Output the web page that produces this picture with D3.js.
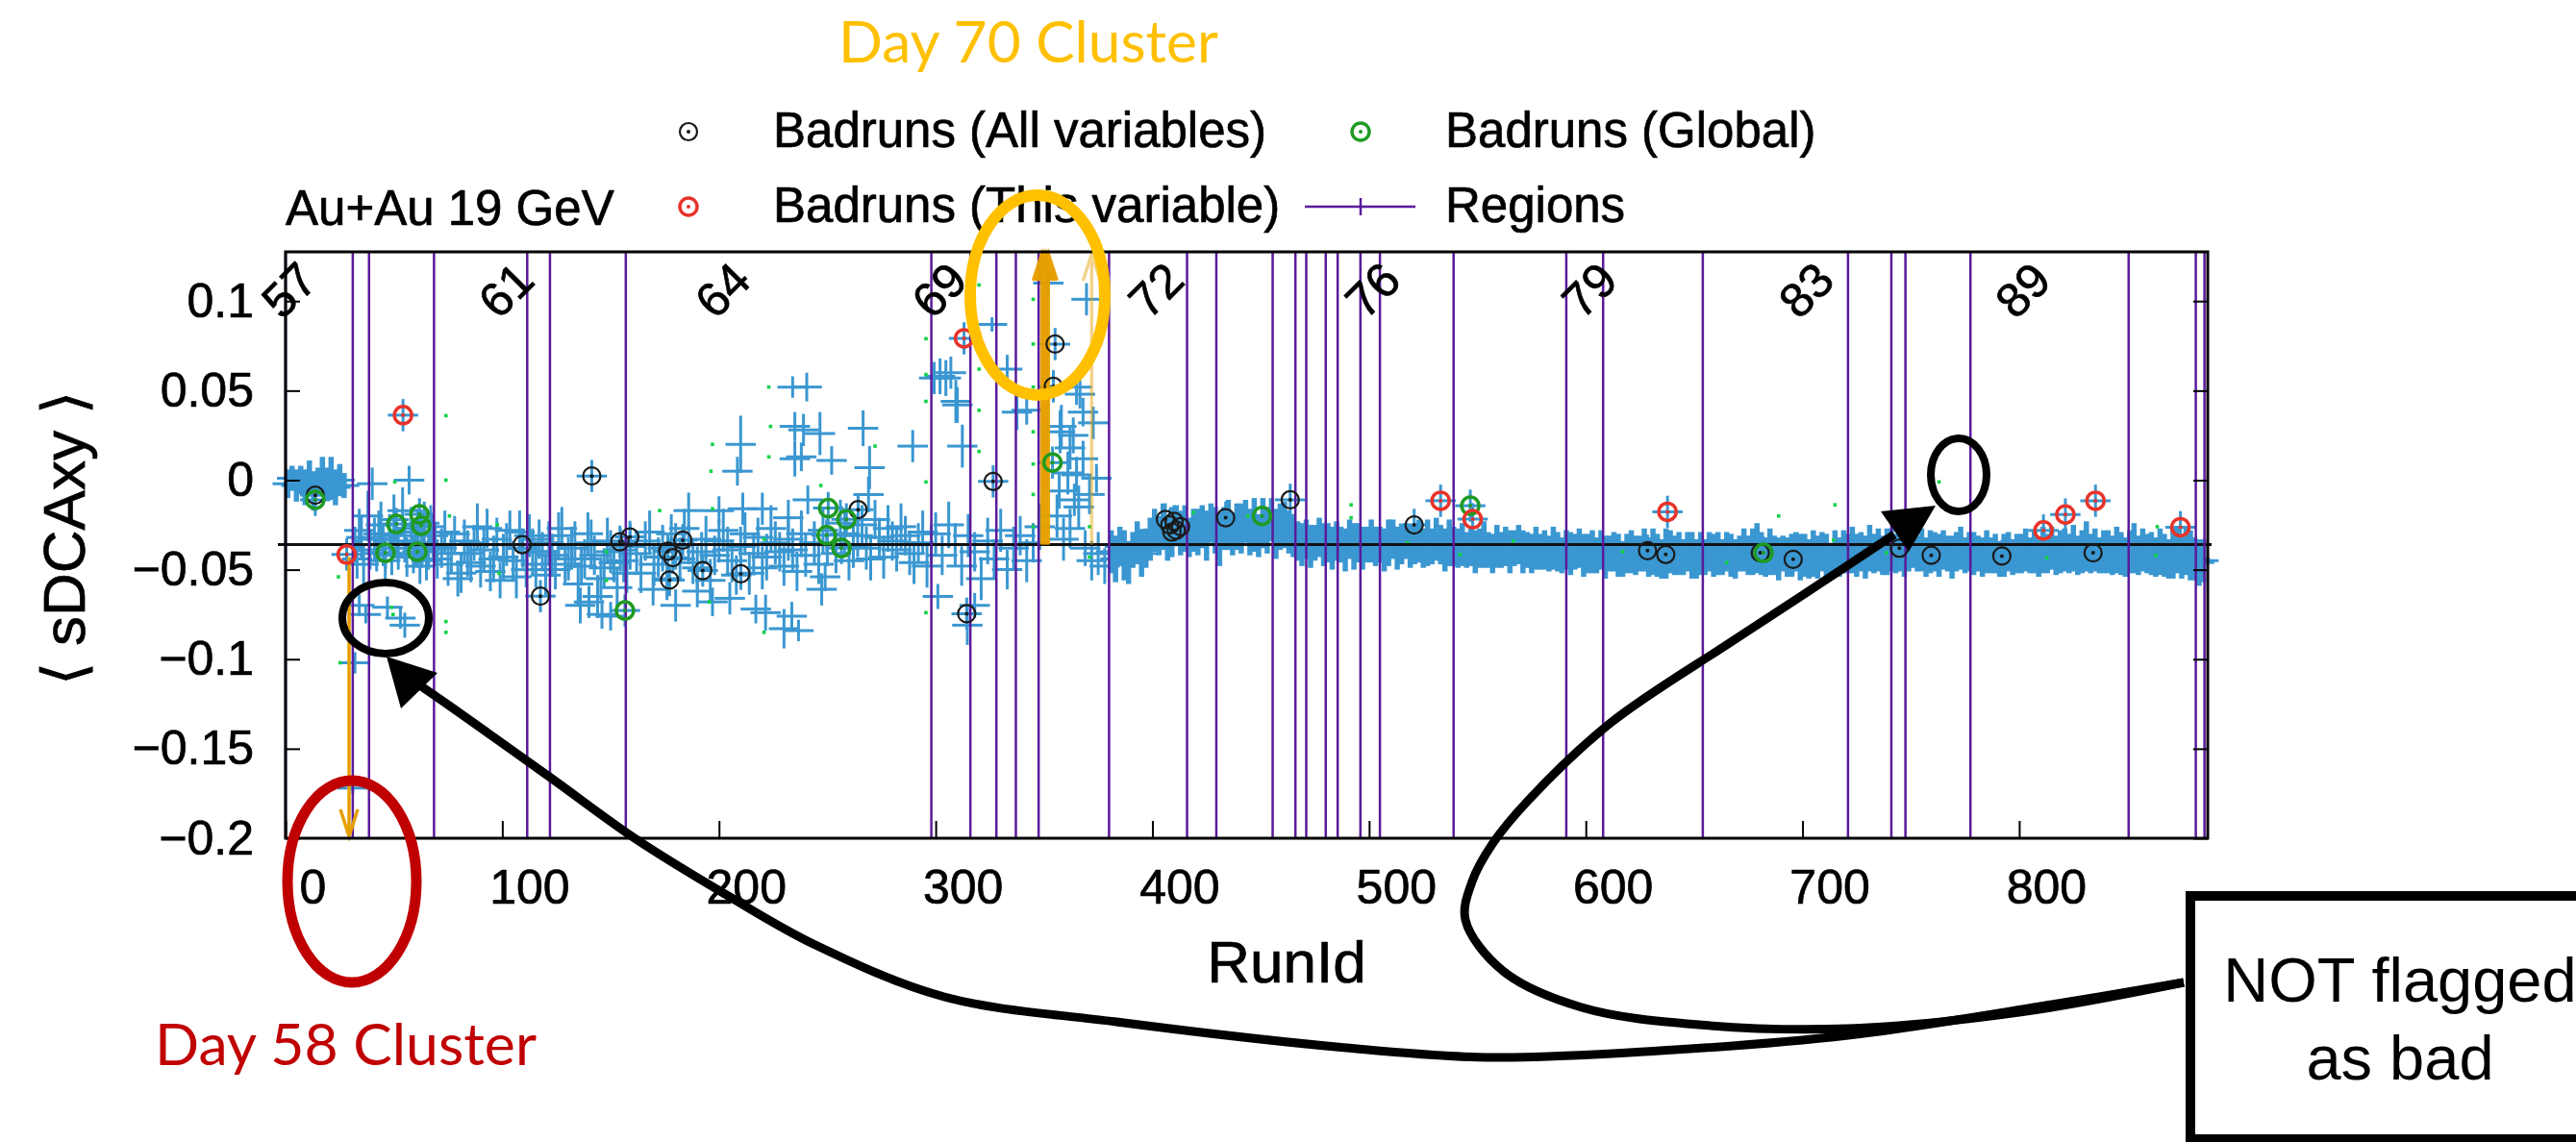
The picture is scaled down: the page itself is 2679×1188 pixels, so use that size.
<!DOCTYPE html>
<html>
<head>
<meta charset="utf-8">
<script src="https://cdn.jsdelivr.net/npm/d3@7"></script>
<style>
  html, body { margin: 0; padding: 0; background: #fff; }
  svg { display: block; }
</style>
</head>
<body>
<div id="chart"></div>
<script>
// ---- data (run index vs <sDCAxy>) ----
const xDomain = [0, 887];
const yDomain = [-0.2, 0.1275];
const xTicks = [0, 100, 200, 300, 400, 500, 600, 700, 800];
const yTicks = [0.1, 0.05, 0, -0.05, -0.1, -0.15, -0.2];
const dayTickRuns = [0, 100, 200, 300, 400, 500, 600, 700, 800];
const dayLabels = ['57', '61', '64', '69', '72', '76', '79', '83', '89'];
const meanValue = -0.036;
const xErr = 7; // half width of the run error bars
const badRunErr = 0.009;

// region boundaries (purple lines)
const regionRuns = [0, 31, 38.5, 68.5, 111.5, 122, 157, 298, 316, 328, 337, 347.5, 380,
  416, 429.5, 455.5, 466, 471, 480, 485.5, 496, 505, 539, 591, 608, 654, 721, 741,
  747.5, 777.5, 850.5, 881.5, 885.5];

// runs 1-27, dense start of the scan (every second run)
const earlyRuns = [1, 3, 5, 7, 9, 11, 13, 15, 17, 19, 21, 23, 25, 27];
const earlyValues = [-0.002, 0.001, -0.003, 0.000, -0.004, 0.002, -0.006, -0.001, 0.003, -0.002, 0.001, -0.004, 0.000, -0.003];
const earlyErrors = [0.008, 0.007, 0.009, 0.008, 0.010, 0.009, 0.011, 0.008, 0.010, 0.009, 0.012, 0.010, 0.009, 0.007];

// runs 381-885, dense band (every second run)
const bandStart = 381, bandStep = 2;
const bandValues = [
  -0.040,-0.044,-0.037,-0.042,-0.046,-0.039,-0.035,-0.041,-0.038,-0.033,
  -0.028,-0.031,-0.026,-0.033,-0.029,-0.025,-0.030,-0.027,-0.032,-0.028,
  -0.029,-0.026,-0.031,-0.024,-0.028,-0.033,-0.027,-0.025,-0.030,-0.026,
  -0.027,-0.023,-0.029,-0.025,-0.031,-0.024,-0.028,-0.022,-0.030,-0.026,
  -0.025,-0.029,-0.031,-0.034,-0.036,-0.033,-0.037,-0.035,-0.032,-0.036,
  -0.035,-0.038,-0.034,-0.036,-0.039,-0.033,-0.037,-0.035,-0.038,-0.036,
  -0.034,-0.037,-0.036,-0.039,-0.035,-0.033,-0.038,-0.036,-0.034,-0.037,
  -0.036,-0.034,-0.038,-0.035,-0.037,-0.033,-0.036,-0.039,-0.035,-0.037,
  -0.038,-0.036,-0.039,-0.037,-0.040,-0.038,-0.036,-0.039,-0.041,-0.037,
  -0.039,-0.037,-0.040,-0.038,-0.036,-0.040,-0.039,-0.041,-0.038,-0.040,
  -0.039,-0.041,-0.038,-0.040,-0.042,-0.039,-0.041,-0.040,-0.038,-0.042,
  -0.041,-0.040,-0.042,-0.039,-0.043,-0.041,-0.040,-0.042,-0.044,-0.041,
  -0.040,-0.042,-0.041,-0.039,-0.043,-0.040,-0.042,-0.044,-0.041,-0.040,
  -0.042,-0.041,-0.043,-0.040,-0.042,-0.044,-0.041,-0.043,-0.040,-0.042,
  -0.041,-0.043,-0.040,-0.042,-0.044,-0.041,-0.039,-0.042,-0.040,-0.038,
  -0.041,-0.043,-0.040,-0.042,-0.044,-0.041,-0.043,-0.042,-0.040,-0.043,
  -0.042,-0.044,-0.041,-0.043,-0.040,-0.042,-0.045,-0.041,-0.043,-0.040,
  -0.041,-0.039,-0.042,-0.040,-0.043,-0.038,-0.041,-0.039,-0.042,-0.040,
  -0.039,-0.041,-0.038,-0.042,-0.040,-0.037,-0.041,-0.039,-0.043,-0.040,
  -0.040,-0.042,-0.039,-0.041,-0.043,-0.040,-0.038,-0.042,-0.040,-0.041,
  -0.041,-0.043,-0.040,-0.042,-0.041,-0.044,-0.042,-0.040,-0.043,-0.041,
  -0.041,-0.039,-0.042,-0.040,-0.043,-0.039,-0.041,-0.038,-0.042,-0.040,
  -0.039,-0.041,-0.038,-0.042,-0.040,-0.037,-0.041,-0.039,-0.042,-0.040,
  -0.040,-0.042,-0.039,-0.041,-0.043,-0.040,-0.038,-0.042,-0.039,-0.041,
  -0.041,-0.043,-0.040,-0.042,-0.044,-0.041,-0.039,-0.043,-0.040,-0.042,
  -0.044,-0.046,-0.045
];
const bandErrors = [
  0.012,0.013,0.011,0.014,0.012,0.010,0.012,0.013,0.011,0.012,
  0.012,0.011,0.013,0.012,0.014,0.011,0.012,0.013,0.011,0.012,
  0.013,0.012,0.014,0.011,0.013,0.015,0.012,0.014,0.012,0.013,
  0.014,0.012,0.013,0.015,0.012,0.014,0.013,0.012,0.014,0.013,
  0.013,0.012,0.012,0.011,0.012,0.011,0.012,0.010,0.011,0.012,
  0.011,0.012,0.011,0.010,0.012,0.011,0.013,0.011,0.012,0.010,
  0.012,0.011,0.010,0.012,0.013,0.011,0.012,0.011,0.010,0.012,
  0.011,0.012,0.011,0.013,0.010,0.012,0.011,0.012,0.013,0.011,
  0.011,0.012,0.010,0.011,0.012,0.011,0.013,0.010,0.011,0.012,
  0.010,0.011,0.012,0.010,0.011,0.012,0.010,0.011,0.012,0.010,
  0.011,0.010,0.012,0.011,0.010,0.011,0.012,0.010,0.011,0.012,
  0.011,0.012,0.010,0.011,0.012,0.010,0.011,0.012,0.010,0.011,
  0.012,0.011,0.010,0.012,0.011,0.013,0.012,0.011,0.014,0.012,
  0.011,0.012,0.010,0.011,0.013,0.011,0.012,0.010,0.011,0.012,
  0.012,0.010,0.011,0.012,0.011,0.010,0.012,0.011,0.013,0.014,
  0.012,0.011,0.013,0.011,0.012,0.010,0.011,0.012,0.011,0.013,
  0.012,0.011,0.013,0.012,0.011,0.012,0.010,0.013,0.011,0.012,
  0.011,0.013,0.012,0.011,0.012,0.013,0.011,0.012,0.011,0.013,
  0.012,0.011,0.013,0.012,0.011,0.012,0.010,0.012,0.011,0.012,
  0.011,0.012,0.011,0.010,0.012,0.011,0.012,0.010,0.011,0.012,
  0.010,0.011,0.012,0.010,0.011,0.010,0.012,0.011,0.010,0.011,
  0.011,0.012,0.010,0.012,0.011,0.013,0.011,0.012,0.011,0.012,
  0.012,0.011,0.013,0.011,0.012,0.014,0.011,0.012,0.010,0.012,
  0.012,0.011,0.013,0.012,0.011,0.012,0.014,0.011,0.012,0.011,
  0.012,0.011,0.013,0.012,0.011,0.014,0.013,0.012,0.013,0.014,
  0.012,0.013,0.012
];

// [run, value, error] crosses, runs 30-70
const crossesDay58 = [
  [32,-0.036,0.010],[34,-0.028,0.012],[36,-0.047,0.011],[38,-0.020,0.014],[40,-0.002,0.009],
  [41,-0.033,0.012],[42,-0.041,0.010],[44,-0.025,0.013],[46,-0.045,0.012],[48,-0.030,0.011],
  [50,-0.022,0.014],[52,-0.038,0.012],[54,-0.017,0.013],[56,-0.043,0.011],[57,0.000,0.008],
  [58,-0.027,0.012],[60,-0.035,0.013],[62,-0.048,0.010],[64,-0.024,0.012],[66,-0.039,0.011],
  [68,-0.031,0.012],[70,-0.044,0.011],
  [33,-0.044,0.011],[35,-0.032,0.012],[39,-0.039,0.011],[43,-0.030,0.013],[45,-0.036,0.012],
  [49,-0.042,0.011],[51,-0.031,0.012],[55,-0.034,0.012],[59,-0.041,0.011],[61,-0.029,0.013],
  [63,-0.037,0.012],[65,-0.045,0.011],[67,-0.026,0.012],[69,-0.037,0.011],
  [34,-0.070,0.006],[37,-0.075,0.005],[47,-0.071,0.006],[53,-0.077,0.006],[55,-0.081,0.007],
  [32,-0.102,0.006],[31,-0.172,0.003]
];
// runs 70-160
const crossesMid = [
  [72,-0.038,0.011],[75,-0.047,0.012],[78,-0.030,0.010],[81,-0.052,0.011],[84,-0.041,0.013],
  [87,-0.035,0.010],[90,-0.048,0.012],[93,-0.027,0.011],[96,-0.044,0.013],[99,-0.056,0.010],
  [102,-0.036,0.012],[105,-0.045,0.011],[108,-0.029,0.012],[111,-0.050,0.010],[114,-0.040,0.013],
  [117,-0.033,0.011],[120,-0.053,0.012],[123,-0.042,0.012],[126,-0.031,0.013],[129,-0.047,0.011],
  [132,-0.038,0.012],[135,-0.058,0.012],[138,-0.044,0.011],[141,-0.035,0.013],[144,-0.065,0.012],
  [147,-0.049,0.011],[150,-0.040,0.012],[153,-0.060,0.011],[156,-0.045,0.012],[159,-0.037,0.013],
  [73.5,-0.029,0.012],[76.5,-0.041,0.011],[79.5,-0.055,0.010],[82.5,-0.034,0.012],[85.5,-0.046,0.011],
  [88.5,-0.026,0.013],[91.5,-0.039,0.012],[94.5,-0.051,0.011],[97.5,-0.033,0.012],[100.5,-0.043,0.013],
  [103.5,-0.028,0.011],[106.5,-0.054,0.012],[109.5,-0.038,0.011],[112.5,-0.031,0.012],[115.5,-0.047,0.013],
  [118.5,-0.040,0.011],[121.5,-0.035,0.012],[124.5,-0.050,0.011],[127.5,-0.027,0.012],[130.5,-0.044,0.012],
  [133.5,-0.036,0.013],[136.5,-0.048,0.011],[139.5,-0.030,0.012],[142.5,-0.042,0.011],[145.5,-0.055,0.012],
  [148.5,-0.034,0.013],[151.5,-0.046,0.011],[154.5,-0.039,0.012],[157.5,-0.052,0.011],
  [136,-0.070,0.010],[140,-0.068,0.009],[146,-0.075,0.008],[150,-0.076,0.008]
];
// runs 160-300
const crossesLate = [
  [162,-0.041,0.012],[166,-0.034,0.011],[170,-0.047,0.012],[174,-0.038,0.013],[178,-0.030,0.011],
  [182,-0.044,0.012],[186,-0.036,0.011],[190,-0.049,0.012],[194,-0.033,0.013],[198,-0.042,0.011],
  [202,-0.028,0.012],[206,-0.045,0.012],[210,-0.037,0.011],[214,-0.052,0.012],[218,-0.032,0.011],
  [222,-0.043,0.013],[226,-0.035,0.012],[230,-0.048,0.011],[234,-0.039,0.012],[238,-0.030,0.013],
  [244,-0.035,0.012],[248,-0.028,0.013],[254,-0.041,0.011],[258,-0.030,0.012],[262,-0.037,0.012],
  [266,-0.025,0.011],[270,-0.044,0.012],[274,-0.032,0.011],[278,-0.027,0.013],[282,-0.039,0.012],
  [286,-0.031,0.011],[290,-0.046,0.012],[294,-0.029,0.012],[298,-0.036,0.011],
  [164,-0.052,0.011],[168,-0.029,0.012],[172,-0.043,0.011],[176,-0.055,0.012],[180,-0.037,0.013],
  [184,-0.027,0.011],[188,-0.046,0.012],[192,-0.040,0.011],[196,-0.056,0.012],[200,-0.034,0.012],
  [204,-0.039,0.013],[208,-0.053,0.011],[212,-0.030,0.012],[216,-0.041,0.011],[220,-0.049,0.012],
  [224,-0.027,0.013],[228,-0.040,0.011],[232,-0.033,0.012],[236,-0.051,0.011],[240,-0.042,0.012],
  [246,-0.047,0.011],[250,-0.036,0.012],[256,-0.024,0.013],[260,-0.045,0.011],[264,-0.031,0.012],
  [268,-0.038,0.012],[272,-0.022,0.011],[276,-0.043,0.012],[280,-0.034,0.011],[284,-0.026,0.013],
  [288,-0.041,0.012],[292,-0.035,0.011],[296,-0.048,0.012],
  [186,-0.017,0.010],[200,-0.017,0.008],[208.5,0.005,0.008],[210,0.020,0.016],[211,-0.016,0.009],
  [220,-0.016,0.009],[232,-0.021,0.010],[234,0.052,0.006],[235,0.030,0.008],[235,0.012,0.010],
  [238,0.013,0.008],[239,0.028,0.009],[240.5,0.052,0.008],[241,-0.011,0.008],[246.6,0.026,0.012],
  [252,0.011,0.008],[266.5,0.029,0.010],[269,-0.008,0.010],[269.5,0.007,0.012],[289.4,0.019,0.009],
  [169.6,-0.061,0.009],[180,-0.070,0.009],[190,-0.062,0.009],[197,-0.068,0.008],[205,-0.066,0.009],
  [217,-0.072,0.008],[221.5,-0.074,0.010],[230,-0.083,0.011],[233.6,-0.076,0.008],[236.7,-0.084,0.006],
  [247.4,-0.061,0.009],[249,-0.054,0.008]
];
// runs 300-380 (Day 70 cluster)
const crossesDay70 = [
  [299.3,0.057,0.009],[302,0.058,0.010],[304.7,0.057,0.010],[307,0.060,0.009],[309.3,0.044,0.012],
  [310,0.042,0.010],[312.3,0.019,0.012],[326,0.087,0.004],[333,0.062,0.008],[337.5,0.038,0.010],
  [342,0.039,0.008],[352,0.110,0.006],[369.6,0.101,0.009],[365,0.052,0.010],[366.6,0.048,0.008],
  [357.4,0.027,0.012],[363.5,0.025,0.010],[372.7,0.032,0.009],[365,0.003,0.010],[374.2,0.001,0.008],
  [362,0.018,0.012],[357,-0.006,0.010],[361,0.004,0.012],[364,-0.011,0.009],[368,0.012,0.010],
  [371,-0.008,0.011],[358,0.030,0.012],[368,0.038,0.008],
  [300,-0.030,0.012],[303,-0.042,0.011],[306,-0.025,0.013],[309,-0.036,0.012],[312,-0.048,0.011],
  [315,-0.031,0.012],[318,-0.040,0.011],[321,-0.055,0.012],[324,-0.034,0.013],[327,-0.044,0.011],
  [330,-0.028,0.012],[333,-0.050,0.011],[336,-0.038,0.012],[339,-0.031,0.011],[342,-0.045,0.012],
  [345,-0.035,0.011],[348,-0.026,0.013],[356,-0.020,0.012],[359,-0.033,0.012],[362,-0.027,0.011],
  [366,-0.015,0.012],[369,-0.038,0.010],[372,-0.045,0.011],[375,-0.041,0.012],[378,-0.048,0.010],
  [301,-0.065,0.007],[314.6,-0.081,0.011],[318,-0.070,0.007]
];

// bad runs [run, value]
const badAll = [[13.7,-0.0084],[109.2,-0.036],[117.6,-0.0648],[141.3,0.0023],[154.3,-0.0344],
  [158.9,-0.0317],[176.4,-0.0397],[177.2,-0.0558],[178.7,-0.0433],[183.3,-0.0335],[192.5,-0.0505],
  [210.1,-0.0523],[264.2,-0.0165],[314.3,-0.0746],[326.5,-0.0007],[354.3,0.0524],[355.1,0.076],
  [406,-0.022],[408,-0.025],[409,-0.029],[410,-0.023],[411,-0.028],[413,-0.026],[433.8,-0.021],
  [463.6,-0.011],[520.8,-0.025],[628.5,-0.0394],[636.9,-0.0415],[680.5,-0.0406],[695.7,-0.0442],
  [744.7,-0.038],[759.4,-0.042],[792,-0.0424],[834.1,-0.0406]];
const badThis = [[28.2,-0.0415],[54.2,0.0363],[313.1,0.0792],[533.0,-0.0115],[547.8,-0.0218],
  [637.7,-0.0177],[811.2,-0.0281],[821.3,-0.0192],[835.2,-0.0115],[874.4,-0.0263]];
const badGlobal = [[13.7,-0.011],[46.1,-0.0406],[51.1,-0.0245],[60.8,-0.040],[61.8,-0.0191],
  [62.6,-0.0254],[156.6,-0.0728],[249.7,-0.0308],[250.4,-0.0156],[256.5,-0.0379],[258.8,-0.0219],
  [353.9,0.0098],[450.6,-0.020],[546.7,-0.0143],[682.0,-0.0406]];

// small green points [run, value]
const greenDots = [[74,0.036],[74,0.0],[75.6,-0.020],[74,-0.079],[74,-0.085],[50.4,-0.001],
  [24.4,-0.054],[25.2,-0.102],[48.9,-0.071],[49.6,-0.075],[97.7,-0.025],[98.5,-0.052],[148,-0.040],
  [148,-0.056],[172.6,-0.017],[197,0.020],[196.3,0.005],[197,-0.016],[223,0.052],[223.8,0.030],
  [223,0.013],[220.8,-0.033],[220.8,-0.085],[195.6,-0.068],[345,0.101],[345,0.076],[345,0.052],
  [345,0.027],[345,0.009],[345,-0.008],[345,-0.026],[320,0.109],[320,0.062],[320,0.039],[320,0.016],
  [295.5,0.079],[295.5,0.059],[295.5,0.044],[295.5,-0.001],[295.5,-0.074],[272,0.019],[247,-0.003],
  [371,-0.026],[371,-0.043],[444,-0.020],[419,-0.018],[491.7,-0.0138],[491.7,-0.021],[517.7,-0.035],
  [542,-0.0415],[566.6,-0.034],[617,-0.040],[689,-0.020],[665,-0.046],[715,-0.0138],[714.3,-0.0335],
  [763,-0.001],[812.7,-0.0433],[863.7,-0.026],[863,-0.042],[738.7,-0.0406]];

// error bars running off scale [run, value]
const offScaleDown = [[29.3, -0.043]];
const offScaleUp = [[349, -0.036], [350, -0.036], [351, -0.036], [352, -0.036]];
const offScaleUpFaint = [[372, -0.036]];

// ---- drawing ----
const W = 2679, H = 1188;
const FONT = "'Liberation Sans', Arial, Helvetica, sans-serif";
const NOTE_FONT = "Lato, 'Open Sans', sans-serif";
const BLUE = '#3a97d1', PURPLE = '#5a1a9c', ORANGE = '#e69f00';

const svg = d3.select('#chart').append('svg').attr('width', W).attr('height', H);
svg.append('rect').attr('width', W).attr('height', H).attr('fill', '#fff');

const x = d3.scaleLinear().domain(xDomain).range([297, 2296]);
const y = d3.scaleLinear().domain(yDomain).range([872, 262]);
const [yBottom, yTop] = y.range();

function drawCrosses(g, pts, vWidth) {
  const c = g.append('g').attr('stroke', BLUE).attr('stroke-linecap', 'butt');
  c.selectAll(null).data(pts).enter().append('line')
    .attr('x1', d => x(d[0] - xErr)).attr('x2', d => x(d[0] + xErr))
    .attr('y1', d => y(d[1])).attr('y2', d => y(d[1]))
    .attr('stroke-width', 3);
  c.selectAll(null).data(pts).enter().append('line')
    .attr('x1', d => x(d[0])).attr('x2', d => x(d[0]))
    .attr('y1', d => y(d[1] - d[2])).attr('y2', d => y(d[1] + d[2]))
    .attr('stroke-width', vWidth);
}

const plot = svg.append('g');
const denseWidth = x(bandStep) - x(0) + 1;
drawCrosses(plot, earlyRuns.map((r, i) => [r, earlyValues[i], earlyErrors[i]]), denseWidth);
drawCrosses(plot, bandValues.map((v, i) => [bandStart + i * bandStep, v, bandErrors[i]]), denseWidth);
drawCrosses(plot, crossesDay58, 3);
drawCrosses(plot, crossesMid, 3);
drawCrosses(plot, crossesLate, 3);
drawCrosses(plot, crossesDay70, 3);
drawCrosses(plot, [...badAll, ...badThis, ...badGlobal].map(d => [d[0], d[1], badRunErr]), 3);

plot.append('g').selectAll('rect').data(greenDots).enter().append('rect')
  .attr('x', d => x(d[0]) - 1.8).attr('y', d => y(d[1]) - 1.8)
  .attr('width', 3.6).attr('height', 3.6).attr('fill', '#14d24a');

// mean line
plot.append('line')
  .attr('x1', x(xDomain[0]) - 8).attr('x2', x(xDomain[1]) + 4)
  .attr('y1', y(meanValue)).attr('y2', y(meanValue))
  .attr('stroke', '#111').attr('stroke-width', 3);

// region lines
plot.append('g').selectAll('line').data(regionRuns).enter().append('line')
  .attr('x1', d => x(d)).attr('x2', d => x(d))
  .attr('y1', yBottom).attr('y2', yTop)
  .attr('stroke', PURPLE).attr('stroke-width', 2.5);

// off-scale arrows
function offArrow(g, d, up, opacity) {
  const px = x(d[0]);
  const end = up ? yTop + 2 : yBottom - 2;
  const s = up ? 1 : -1;
  const a = g.append('g').attr('stroke', ORANGE).attr('fill', 'none')
    .attr('stroke-width', 3.5).attr('opacity', opacity);
  a.append('line').attr('x1', px).attr('x2', px).attr('y1', y(d[1])).attr('y2', end);
  a.append('path').attr('d', `M${px - 9},${end + s * 28}L${px},${end}L${px + 9},${end + s * 28}`);
}
const arrows = plot.append('g');
offScaleDown.forEach(d => offArrow(arrows, d, false, 1));
offScaleUp.forEach(d => offArrow(arrows, d, true, 0.95));
offScaleUpFaint.forEach(d => offArrow(arrows, d, true, 0.45));

// bad run markers
function bullseye(g, cx, cy, color, sw) {
  g.append('circle').attr('cx', cx).attr('cy', cy).attr('r', 9)
    .attr('fill', 'none').attr('stroke', color).attr('stroke-width', sw);
  g.append('circle').attr('cx', cx).attr('cy', cy).attr('r', 2).attr('fill', color);
}
const marks = plot.append('g');
badAll.forEach(d => bullseye(marks, x(d[0]), y(d[1]), '#1a1a1a', 2.2));
badGlobal.forEach(d => bullseye(marks, x(d[0]), y(d[1]), '#1f9a22', 3.5));
badThis.forEach(d => bullseye(marks, x(d[0]), y(d[1]), '#e8332a', 3.5));

// axes
const fmtY = d => d === 0 ? '0' : String(d).replace('-', '\u2212');
const gy = svg.append('g').attr('transform', `translate(${x(xDomain[0])},0)`)
  .call(d3.axisLeft(y).tickValues(yTicks).tickSize(-15).tickPadding(33).tickFormat(fmtY));
const gyr = svg.append('g').attr('transform', `translate(${x(xDomain[1])},0)`)
  .call(d3.axisRight(y).tickValues(yTicks).tickSize(-15).tickFormat(''));
const gx = svg.append('g').attr('transform', `translate(0,${yBottom})`)
  .call(d3.axisBottom(x).tickValues(xTicks).tickSize(-18).tickPadding(32).tickFormat(d3.format('d')));
[gy, gyr, gx].forEach(g => {
  g.select('.domain').remove();
  g.selectAll('.tick line').attr('stroke', '#000').attr('stroke-width', 2);
  g.selectAll('.tick text').attr('fill', '#000').attr('font-size', 50).attr('font-family', FONT)
    .attr('stroke', '#000').attr('stroke-width', 0.7);
});
gx.selectAll('.tick text').attr('x', 28);

// day labels on top axis
svg.append('g').selectAll('text').data(dayTickRuns).enter().append('text')
  .attr('transform', d => `translate(${x(d) + 4},302) rotate(-45)`)
  .attr('text-anchor', 'middle').attr('dominant-baseline', 'central')
  .attr('font-family', FONT).attr('font-size', 50).attr('fill', '#000')
  .attr('stroke', '#000').attr('stroke-width', 0.7)
  .text((d, i) => dayLabels[i]);

// frame
svg.append('rect')
  .attr('x', x(xDomain[0])).attr('y', yTop)
  .attr('width', x(xDomain[1]) - x(xDomain[0])).attr('height', yBottom - yTop)
  .attr('fill', 'none').attr('stroke', '#000').attr('stroke-width', 3);

// axis titles
const titles = svg.append('g').attr('font-family', FONT).attr('font-size', 62)
  .attr('stroke', '#000').attr('stroke-width', 0.7);
titles.append('text').attr('x', 1338).attr('y', 1022).attr('text-anchor', 'middle').text('RunId');
titles.append('text').attr('transform', 'translate(88,560) rotate(-90)').attr('text-anchor', 'middle')
  .text('\u27E8 sDCAxy \u27E9');

// legend
const leg = svg.append('g').attr('font-family', FONT).attr('font-size', 51).attr('fill', '#000');
const legText = (tx, ty, s) => leg.append('text').attr('x', tx).attr('y', ty)
  .attr('stroke', '#000').attr('stroke-width', 0.7).text(s);
legText(297, 234, 'Au+Au 19 GeV');
bullseye(leg, 716, 137, '#1a1a1a', 2.2);
legText(804, 153, 'Badruns (All variables)');
bullseye(leg, 1415, 137, '#1f9a22', 3.5);
legText(1503, 153, 'Badruns (Global)');
bullseye(leg, 716, 215, '#e8332a', 3.5);
legText(804, 231, 'Badruns (This variable)');
leg.append('line').attr('x1', 1357).attr('x2', 1472).attr('y1', 215).attr('y2', 215)
  .attr('stroke', PURPLE).attr('stroke-width', 2.5);
leg.append('line').attr('x1', 1415).attr('x2', 1415).attr('y1', 206).attr('y2', 224)
  .attr('stroke', PURPLE).attr('stroke-width', 2.5);
legText(1503, 231, 'Regions');

// ---- slide annotations drawn on top ----
const note = svg.append('g');
note.append('text').attr('x', 872).attr('y', 65).attr('font-family', NOTE_FONT).attr('font-size', 60)
  .attr('fill', '#ffc000').attr('textLength', 395).attr('lengthAdjust', 'spacingAndGlyphs').text('Day 70 Cluster');
note.append('text').attr('x', 161).attr('y', 1108).attr('font-family', NOTE_FONT).attr('font-size', 60)
  .attr('fill', '#c00000').attr('textLength', 397).attr('lengthAdjust', 'spacingAndGlyphs').text('Day 58 Cluster');

const ellipses = [
  {cx: 1079, cy: 307, rx: 70, ry: 104, c: '#ffc000', w: 12},
  {cx: 366, cy: 917, rx: 67, ry: 105, c: '#c00000', w: 11},
  {cx: 401, cy: 643, rx: 45, ry: 37, c: '#000', w: 8},
  {cx: 2037, cy: 494, rx: 29, ry: 38, c: '#000', w: 8}
];
note.selectAll('ellipse').data(ellipses).enter().append('ellipse')
  .attr('cx', d => d.cx).attr('cy', d => d.cy).attr('rx', d => d.rx).attr('ry', d => d.ry)
  .attr('fill', 'none').attr('stroke', d => d.c).attr('stroke-width', d => d.w);

const curve = d3.line().curve(d3.curveCatmullRom.alpha(0.5));
const arrowLeft = [[2271,1022],[2134,1045],[1922,1077],[1726,1093],[1547,1100],[1400,1090],
  [1161,1063],[982,1037],[848,983],[759,933],[660,872],[574,810],[470,736],[425,705]];
const arrowRight = [[2271,1022],[2100,1053],[1922,1070],[1767,1066],[1645,1048],[1563,1010],
  [1524,957],[1531,917],[1552,878],[1589,833],[1675,752],[1800,668],[1890,609],[1970,556]];
note.append('path').attr('d', curve(arrowLeft)).attr('fill', 'none').attr('stroke', '#000').attr('stroke-width', 9);
note.append('path').attr('d', curve(arrowRight)).attr('fill', 'none').attr('stroke', '#000').attr('stroke-width', 9);
note.append('polygon').attr('points', '402,683 417,737 455,700').attr('fill', '#000');
note.append('polygon').attr('points', '2013,526 1956,532 1985,574').attr('fill', '#000');

note.append('rect').attr('x', 2278).attr('y', 932).attr('width', 600).attr('height', 253)
  .attr('fill', '#fff').attr('stroke', '#000').attr('stroke-width', 10);
note.append('text').attr('x', 2496).attr('y', 1042).attr('text-anchor', 'middle')
  .attr('font-family', FONT).attr('font-size', 65).text('NOT flagged');
note.append('text').attr('x', 2496).attr('y', 1123).attr('text-anchor', 'middle')
  .attr('font-family', FONT).attr('font-size', 65).text('as bad');
</script>
</body>
</html>
